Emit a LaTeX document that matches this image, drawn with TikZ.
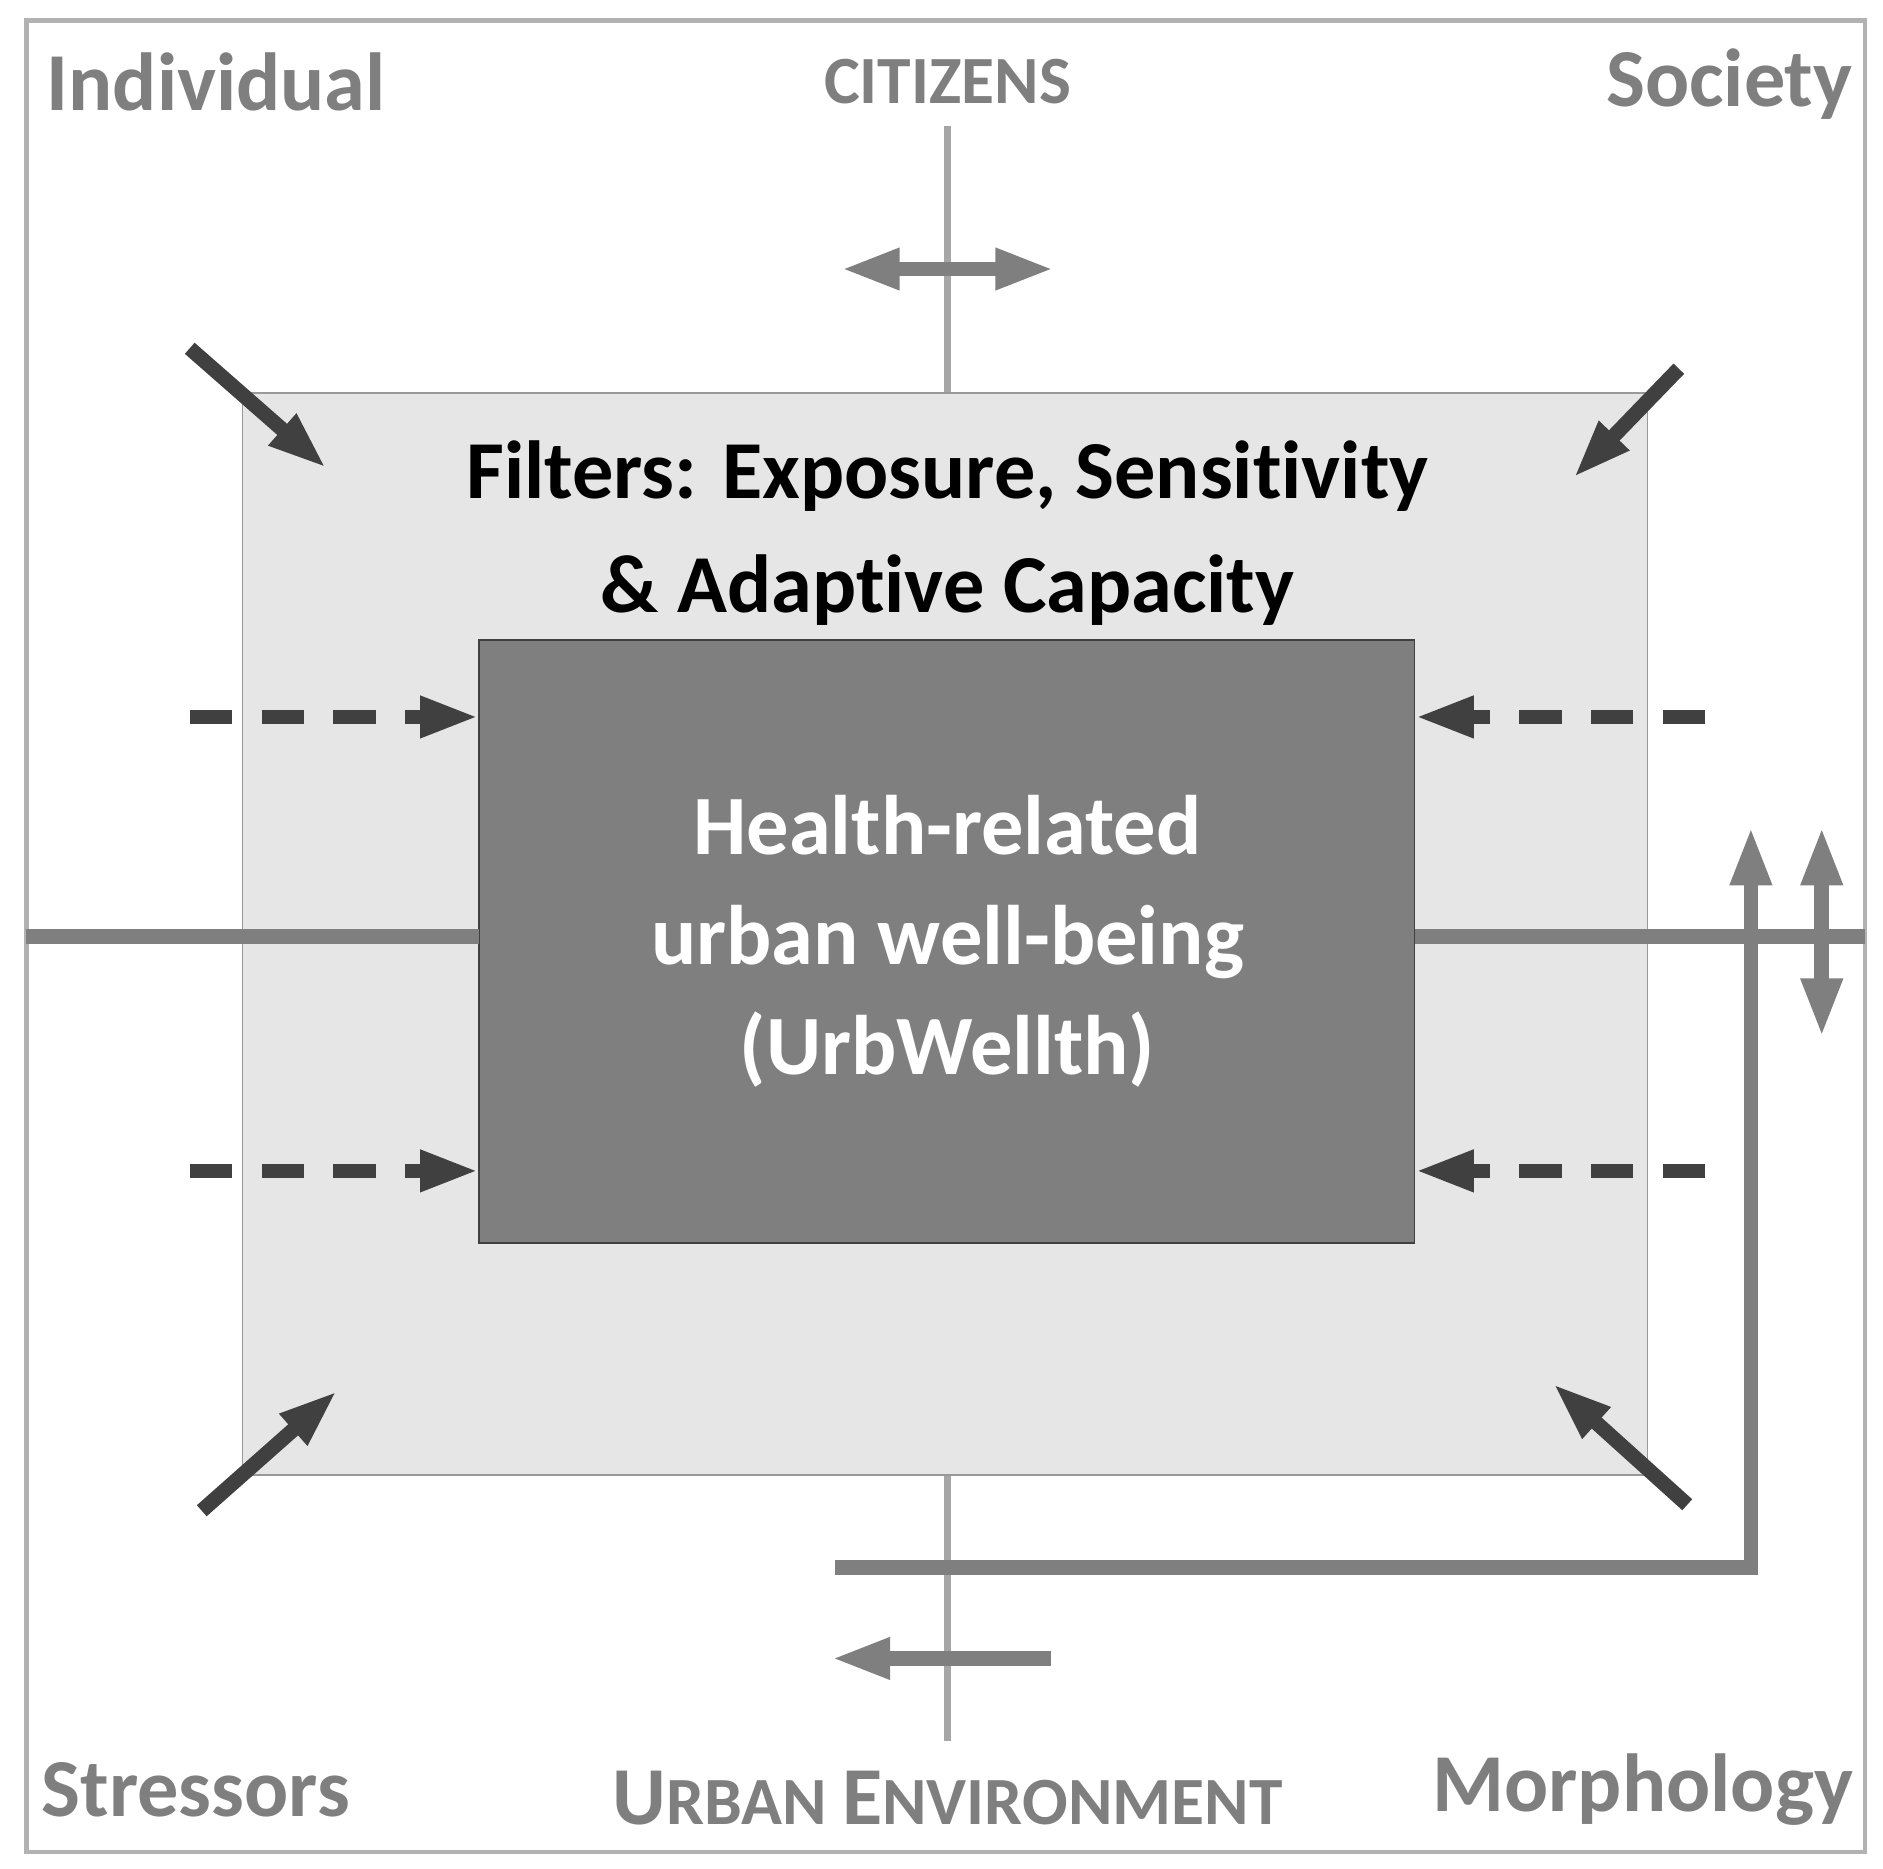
\documentclass[tikz,border=0pt]{standalone}
\usepackage{fontspec}
\setmainfont{Carlito}[Ligatures={NoCommon,NoRare,NoContextual}]
\usetikzlibrary{arrows.meta}
\definecolor{labelgray}{HTML}{7F7F7F}
\definecolor{darkarrow}{HTML}{404040}
\definecolor{filterfill}{HTML}{E6E6E6}
\begin{document}
\begin{tikzpicture}[x=0.01cm,y=-0.01cm,
  tip/.style={Triangle[length=14pt,width=9pt]},
  corner/.style={text=labelgray,font=\bfseries\fontsize{19.5}{24}\selectfont},
  flow/.style={line width=3.5pt,labelgray,-{Triangle[length=14pt,width=9pt]}},
  both/.style={flow,{Triangle[length=14pt,width=9pt]}-{Triangle[length=14pt,width=9pt]}},
  push/.style={line width=3.5pt,darkarrow,-{Triangle[length=14pt,width=9pt]}},
  dashpush/.style={push,dash pattern=on 10pt off 7pt}]
\useasboundingbox (0,0) rectangle (1568,1556);
\draw[gray!60,line width=1pt] (22,17) rectangle (1553,1542);
\draw[gray!70,line width=1.5pt] (789,105) -- (789,1450);
\draw[labelgray,line width=3.5pt] (22,780) -- (1553,780);
% filter box and centre box
\fill[filterfill,draw=gray!80] (202,327) rectangle (1372,1228);
\fill[labelgray,draw=gray!50!black] (399,533) rectangle (1178,1035);
\draw[labelgray,line width=3.5pt] (22,780) -- (399,780) (1178,780) -- (1553,780);
\node[font=\bfseries\fontsize{19.5}{26}\selectfont,align=center] (filtxt) at (789,444)
  {Filters: Exposure, Sensitivity\\[1pt]\& Adaptive Capacity};
\node[font=\bfseries\fontsize{20}{26}\selectfont,align=center,text=white] (wellth) at (789,784)
  {Health-related\\urban well-being\\(UrbWellth)};
% labels
\node[corner] (indiv) at (180,68) {Individual};
\node[corner,font=\bfseries\fontsize{16}{20}\selectfont] (citiz) at (789,68) {CITIZENS};
\node[corner] (society) at (1440,70) {Society};
\node[corner] (stress) at (163,1490) {Stressors};
\node[corner] (urban) at (789,1497) {U\fontsize{16}{20}\selectfont RBAN \fontsize{19.5}{24}\selectfont E\fontsize{16}{20}\selectfont NVIRONMENT};
\node[corner] (morph) at (1368,1490) {Morphology};
% arrows
\coordinate (ca) at (700,224); \coordinate (cb) at (878,224);
\draw[both] (ca) -- (cb);
\coordinate (ue) at (875,1381); \coordinate (uw) at (692,1381);
\draw[flow] (ue) -- (uw);
\coordinate (fb) at (695,1305); \coordinate (fc) at (1458,1305); \coordinate (ft) at (1458,688);
\draw[flow] (fb) -- (fc) -- (ft);
\coordinate (vt) at (1517,688); \coordinate (vb) at (1517,864);
\draw[both] (vt) -- (vb);
\draw[push] (158,290) -- (272,390);
\draw[push] (1398,307) -- (1310,398);
\draw[push] (168,1258) -- (281,1158);
\draw[push] (1405,1253) -- (1293,1152);
\foreach \y in {597,975}{
  \draw[dashpush] (158,\y) -- (399,\y);
  \draw[dashpush] (1420,\y) -- (1178,\y);
}
\end{tikzpicture}
\end{document}
